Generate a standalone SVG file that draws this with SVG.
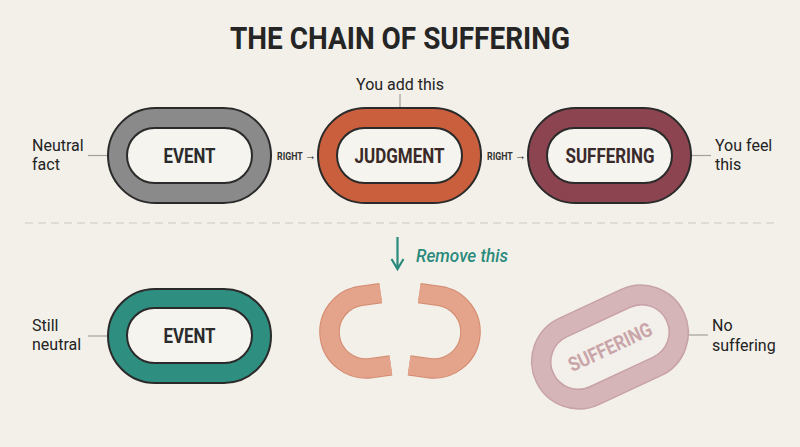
<svg xmlns="http://www.w3.org/2000/svg" width="800" height="447" viewBox="0 0 800 447">
<style>
.lbl{font-family:Roboto,"Liberation Sans",sans-serif;font-size:16px;fill:#222}
.nm{font-family:Roboto,"Liberation Sans",sans-serif;font-size:20px;font-weight:700;text-anchor:middle}
.rt{font-family:Roboto,"Liberation Sans",sans-serif;font-size:11px;font-weight:700;fill:#333}
.ar{font-size:14px;font-weight:400}
.ln{stroke:#a0a09c;stroke-width:1.2;fill:none}
.in{fill:#f6f4ef;stroke:#2a2a2a;stroke-width:2}
.out{stroke:#2a2a2a;stroke-width:2}
</style>
<rect width="800" height="447" fill="#f2f0e9"/>
<text x="400" y="49" text-anchor="middle" font-family="Roboto,'Liberation Sans',sans-serif" font-size="32" font-weight="700" fill="#252525" textLength="340" lengthAdjust="spacingAndGlyphs">THE CHAIN OF SUFFERING</text>

<g id="connectors">
<line class="ln" x1="88" y1="155.5" x2="108" y2="155.5"/>
<line class="ln" x1="400" y1="94" x2="400" y2="108"/>
<line class="ln" x1="692" y1="155.5" x2="711" y2="155.5"/>
<line class="ln" x1="88" y1="336" x2="108" y2="336"/>
<line class="ln" x1="688" y1="335" x2="708" y2="335"/>
<line x1="25" y1="223" x2="775" y2="223" stroke="#c8c7c1" stroke-width="1.2" stroke-dasharray="8 5"/>
<text class="rt" transform="translate(277 159.5) scale(0.8 1)">RIGHT <tspan class="ar">→</tspan></text>
<text class="rt" transform="translate(487 159.5) scale(0.8 1)">RIGHT <tspan class="ar">→</tspan></text>
</g>

<g id="label-neutral">
<text class="lbl" x="32" y="150.5">Neutral</text>
<text class="lbl" x="32" y="169.5">fact</text>
</g>
<g id="label-add">
<text class="lbl" x="400" y="90" text-anchor="middle">You add this</text>
</g>
<g id="label-feel">
<text class="lbl" x="715" y="150.5">You feel</text>
<text class="lbl" x="715" y="169.5">this</text>
</g>

<g id="event">
<rect class="out" x="108" y="108" width="163" height="95" rx="47.5" fill="#8a8a8a"/>
<rect class="in" x="127" y="128" width="125" height="55" rx="27.5"/>
<text class="nm" x="189.5" y="163" fill="#2b2b2b" textLength="52" lengthAdjust="spacingAndGlyphs">EVENT</text>
</g>
<g id="judgment">
<rect class="out" x="318" y="108" width="163" height="95" rx="47.5" fill="#c95f3d"/>
<rect class="in" x="337" y="128" width="125" height="55" rx="27.5"/>
<text class="nm" x="399.5" y="163" fill="#3a2a27" textLength="90" lengthAdjust="spacingAndGlyphs">JUDGMENT</text>
</g>
<g id="suffering">
<rect class="out" x="528" y="108" width="163" height="95" rx="47.5" fill="#8d4451"/>
<rect class="in" x="547" y="128" width="125" height="55" rx="27.5"/>
<text class="nm" x="610" y="163" fill="#3a2a2c" textLength="89" lengthAdjust="spacingAndGlyphs">SUFFERING</text>
</g>

<g id="remove">
<path d="M397.5 237 V268 M391.5 259 L397.5 269 L403.5 259" stroke="#2a8a7c" stroke-width="2.2" fill="none"/>
<text x="416" y="262" font-family="Roboto,'Liberation Sans',sans-serif" font-size="19" font-style="italic" font-weight="500" fill="#2a8a7c" textLength="92" lengthAdjust="spacingAndGlyphs">Remove this</text>
</g>

<g id="label-still">
<text class="lbl" x="32" y="331">Still</text>
<text class="lbl" x="32" y="350">neutral</text>
</g>
<g id="event-2">
<rect class="out" x="108" y="289" width="163" height="94" rx="47" fill="#2e8f81"/>
<rect class="in" x="127" y="308" width="125" height="55" rx="27.5"/>
<text class="nm" x="189.5" y="343" fill="#2b2b2b" textLength="52" lengthAdjust="spacingAndGlyphs">EVENT</text>
</g>

<g id="broken-judgment">
<g transform="rotate(-8 366 332)">
<path d="M386 295.5 H366 A36.5 36.5 0 0 0 366 368.5 H386" fill="none" stroke="#d48a70" stroke-width="20.5"/>
<path d="M386 295.5 H366 A36.5 36.5 0 0 0 366 368.5 H386" fill="none" stroke="#e3a48b" stroke-width="18.5"/>
</g>
<g transform="rotate(8 434 332)">
<path d="M414 295.5 H434 A36.5 36.5 0 0 1 434 368.5 H414" fill="none" stroke="#d48a70" stroke-width="20.5"/>
<path d="M414 295.5 H434 A36.5 36.5 0 0 1 434 368.5 H414" fill="none" stroke="#e3a48b" stroke-width="18.5"/>
</g>
</g>

<g id="suffering-faded" transform="translate(610 347) rotate(-25)">
<rect x="-81.5" y="-47.5" width="163" height="95" rx="47.5" fill="#d6b5b8" stroke="#c7a2a6" stroke-width="1.5"/>
<rect x="-62.5" y="-27.5" width="125" height="55" rx="27.5" fill="#f3efea" stroke="#c7a2a6" stroke-width="1.5"/>
<text class="nm" x="0" y="7" fill="#c9a5a9" textLength="90" lengthAdjust="spacingAndGlyphs">SUFFERING</text>
</g>
<g id="label-no">
<text class="lbl" x="712" y="331">No</text>
<text class="lbl" x="712" y="350.5">suffering</text>
</g>
</svg>
